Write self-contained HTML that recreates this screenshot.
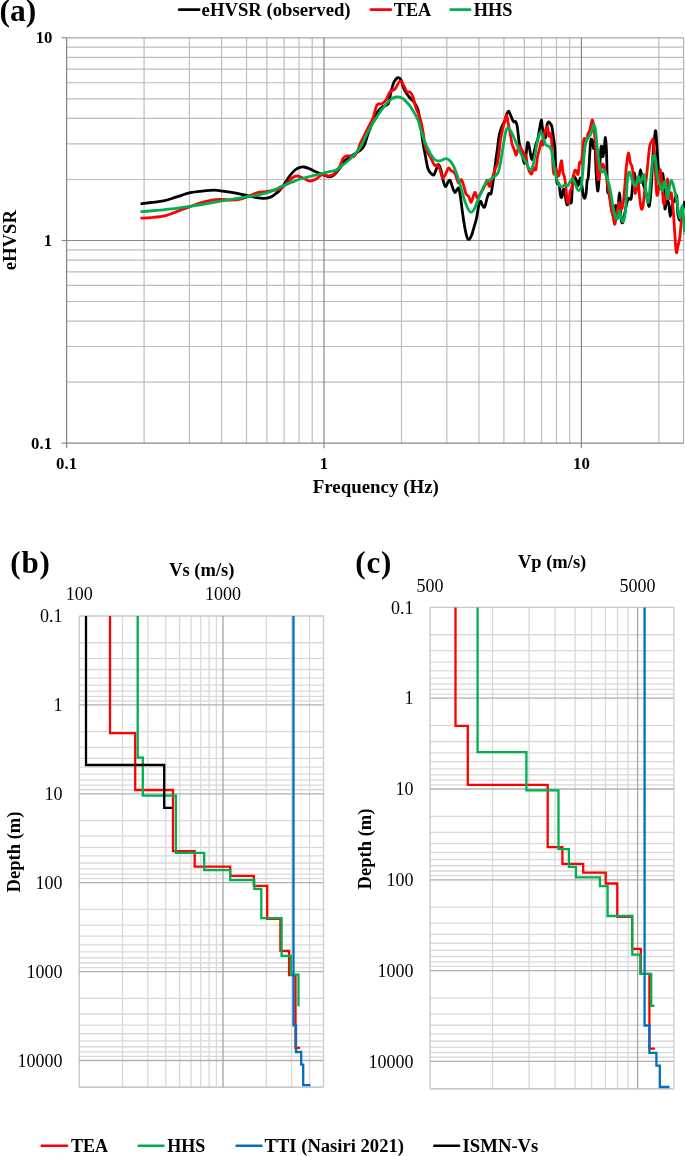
<!DOCTYPE html>
<html><head><meta charset="utf-8"><title>Figure</title>
<style>
html,body{margin:0;padding:0;background:#fff;}
body{width:685px;height:1156px;overflow:hidden;}
svg{display:block;}
text{font-family:"Liberation Serif",serif;fill:#000;}
.t{opacity:0.999;}
</style></head>
<body>
<svg width="685" height="1156" viewBox="0 0 685 1156">
<defs><clipPath id="clipA"><rect x="66.6" y="32.8" width="618.4" height="410.4"/></clipPath></defs>
<rect x="0" y="0" width="685" height="1156" fill="#fff"/>
<line x1="66.6" y1="382.18" x2="683.6" y2="382.18" stroke="#bdbdbd" stroke-width="1.2"/>
<line x1="66.6" y1="346.49" x2="683.6" y2="346.49" stroke="#bdbdbd" stroke-width="1.2"/>
<line x1="66.6" y1="321.16" x2="683.6" y2="321.16" stroke="#bdbdbd" stroke-width="1.2"/>
<line x1="66.6" y1="301.52" x2="683.6" y2="301.52" stroke="#bdbdbd" stroke-width="1.2"/>
<line x1="66.6" y1="285.47" x2="683.6" y2="285.47" stroke="#bdbdbd" stroke-width="1.2"/>
<line x1="66.6" y1="271.9" x2="683.6" y2="271.9" stroke="#bdbdbd" stroke-width="1.2"/>
<line x1="66.6" y1="260.14" x2="683.6" y2="260.14" stroke="#bdbdbd" stroke-width="1.2"/>
<line x1="66.6" y1="249.78" x2="683.6" y2="249.78" stroke="#bdbdbd" stroke-width="1.2"/>
<line x1="66.6" y1="179.48" x2="683.6" y2="179.48" stroke="#bdbdbd" stroke-width="1.2"/>
<line x1="66.6" y1="143.79" x2="683.6" y2="143.79" stroke="#bdbdbd" stroke-width="1.2"/>
<line x1="66.6" y1="118.46" x2="683.6" y2="118.46" stroke="#bdbdbd" stroke-width="1.2"/>
<line x1="66.6" y1="98.82" x2="683.6" y2="98.82" stroke="#bdbdbd" stroke-width="1.2"/>
<line x1="66.6" y1="82.77" x2="683.6" y2="82.77" stroke="#bdbdbd" stroke-width="1.2"/>
<line x1="66.6" y1="69.2" x2="683.6" y2="69.2" stroke="#bdbdbd" stroke-width="1.2"/>
<line x1="66.6" y1="57.44" x2="683.6" y2="57.44" stroke="#bdbdbd" stroke-width="1.2"/>
<line x1="66.6" y1="47.08" x2="683.6" y2="47.08" stroke="#bdbdbd" stroke-width="1.2"/>
<line x1="144.09" y1="37.8" x2="144.09" y2="443.2" stroke="#bdbdbd" stroke-width="1.2"/>
<line x1="189.41" y1="37.8" x2="189.41" y2="443.2" stroke="#bdbdbd" stroke-width="1.2"/>
<line x1="221.57" y1="37.8" x2="221.57" y2="443.2" stroke="#bdbdbd" stroke-width="1.2"/>
<line x1="246.51" y1="37.8" x2="246.51" y2="443.2" stroke="#bdbdbd" stroke-width="1.2"/>
<line x1="266.9" y1="37.8" x2="266.9" y2="443.2" stroke="#bdbdbd" stroke-width="1.2"/>
<line x1="284.13" y1="37.8" x2="284.13" y2="443.2" stroke="#bdbdbd" stroke-width="1.2"/>
<line x1="299.06" y1="37.8" x2="299.06" y2="443.2" stroke="#bdbdbd" stroke-width="1.2"/>
<line x1="312.22" y1="37.8" x2="312.22" y2="443.2" stroke="#bdbdbd" stroke-width="1.2"/>
<line x1="401.49" y1="37.8" x2="401.49" y2="443.2" stroke="#bdbdbd" stroke-width="1.2"/>
<line x1="446.81" y1="37.8" x2="446.81" y2="443.2" stroke="#bdbdbd" stroke-width="1.2"/>
<line x1="478.97" y1="37.8" x2="478.97" y2="443.2" stroke="#bdbdbd" stroke-width="1.2"/>
<line x1="503.91" y1="37.8" x2="503.91" y2="443.2" stroke="#bdbdbd" stroke-width="1.2"/>
<line x1="524.3" y1="37.8" x2="524.3" y2="443.2" stroke="#bdbdbd" stroke-width="1.2"/>
<line x1="541.53" y1="37.8" x2="541.53" y2="443.2" stroke="#bdbdbd" stroke-width="1.2"/>
<line x1="556.46" y1="37.8" x2="556.46" y2="443.2" stroke="#bdbdbd" stroke-width="1.2"/>
<line x1="569.62" y1="37.8" x2="569.62" y2="443.2" stroke="#bdbdbd" stroke-width="1.2"/>
<line x1="658.89" y1="37.8" x2="658.89" y2="443.2" stroke="#bdbdbd" stroke-width="1.2"/>
<line x1="683.6" y1="37.8" x2="683.6" y2="443.2" stroke="#b4b4b4" stroke-width="1.2"/>
<line x1="66.6" y1="37.8" x2="683.6" y2="37.8" stroke="#a8a8a8" stroke-width="1.3"/>
<line x1="66.6" y1="240.5" x2="683.6" y2="240.5" stroke="#898989" stroke-width="1.2"/>
<line x1="324" y1="37.8" x2="324" y2="448.2" stroke="#898989" stroke-width="1.2"/>
<line x1="581.4" y1="37.8" x2="581.4" y2="448.2" stroke="#898989" stroke-width="1.2"/>
<line x1="66.6" y1="37.8" x2="66.6" y2="448.2" stroke="#898989" stroke-width="1.3"/>
<line x1="61.6" y1="443.2" x2="683.6" y2="443.2" stroke="#898989" stroke-width="1.3"/>
<line x1="61.6" y1="37.8" x2="66.6" y2="37.8" stroke="#898989" stroke-width="1.2"/>
<line x1="61.6" y1="240.5" x2="66.6" y2="240.5" stroke="#898989" stroke-width="1.2"/>
<line x1="179.2" y1="9.7" x2="199.1" y2="9.7" stroke="#000" stroke-width="2.7" stroke-linecap="round"/>
<line x1="370.9" y1="9.7" x2="390.8" y2="9.7" stroke="#ff0000" stroke-width="2.7" stroke-linecap="round"/>
<line x1="450.7" y1="9.7" x2="470.1" y2="9.7" stroke="#00b050" stroke-width="2.7" stroke-linecap="round"/>
<g clip-path="url(#clipA)">
<path d="M140.5,203.9 C142.3,203.67 147.45,203 151.3,202.5 C155.15,202 159.5,201.78 163.6,200.9 C167.7,200.02 171.47,198.57 175.9,197.2 C180.33,195.83 185.78,193.72 190.2,192.7 C194.62,191.68 198.32,191.52 202.4,191.1 C206.48,190.68 211.28,190.2 214.7,190.2 C218.12,190.2 219.83,190.68 222.9,191.1 C225.97,191.52 229.35,192.02 233.1,192.7 C236.85,193.38 241.65,194.42 245.4,195.2 C249.15,195.98 252.53,196.87 255.6,197.4 C258.67,197.93 261.42,198.4 263.8,198.4 C266.18,198.4 268.03,198.08 269.9,197.4 C271.77,196.72 273.32,195.53 275,194.3 C276.68,193.07 278.33,191.88 280,190 C281.67,188.12 283.33,185.42 285,183 C286.67,180.58 288.33,177.67 290,175.5 C291.67,173.33 293.33,171.37 295,170 C296.67,168.63 298.5,167.8 300,167.3 C301.5,166.8 302.5,166.8 304,167 C305.5,167.2 307.33,167.83 309,168.5 C310.67,169.17 312.17,170.17 314,171 C315.83,171.83 318.17,172.75 320,173.5 C321.83,174.25 323.33,174.95 325,175.5 C326.67,176.05 328.5,176.88 330,176.8 C331.5,176.72 332.33,176.47 334,175 C335.67,173.53 338.33,170.25 340,168 C341.67,165.75 342.33,163.33 344,161.5 C345.67,159.67 348.33,158.17 350,157 C351.67,155.83 352.33,155.58 354,154.5 C355.67,153.42 358.33,151.92 360,150.5 C361.67,149.08 362.67,148.75 364,146 C365.33,143.25 366.67,137.67 368,134 C369.33,130.33 370.67,127.33 372,124 C373.33,120.67 374.33,116.83 376,114 C377.67,111.17 380,108.67 382,107 C384,105.33 386.5,106.5 388,104 C389.5,101.5 390,95.67 391,92 C392,88.33 392.83,84.4 394,82 C395.17,79.6 396.83,77.93 398,77.6 C399.17,77.27 400,78.1 401,80 C402,81.9 403,86.67 404,89 C405,91.33 406,92.5 407,94 C408,95.5 408.83,96.67 410,98 C411.17,99.33 412.67,100 414,102 C415.33,104 416.92,106.17 418,110 C419.08,113.83 419.67,119.5 420.5,125 C421.33,130.5 422.15,137.67 423,143 C423.85,148.33 424.78,152.75 425.6,157 C426.42,161.25 427.03,165.8 427.9,168.5 C428.77,171.2 429.82,172.12 430.8,173.2 C431.78,174.28 432.92,175.58 433.8,175 C434.68,174.42 435.33,171.45 436.1,169.7 C436.87,167.95 437.62,164.5 438.4,164.5 C439.18,164.5 440.02,167.08 440.8,169.7 C441.58,172.32 442.33,177.38 443.1,180.2 C443.87,183.02 444.62,186.2 445.4,186.6 C446.18,187 447.02,183.67 447.8,182.6 C448.58,181.53 449.32,179.43 450.1,180.2 C450.88,180.97 451.72,185.15 452.5,187.2 C453.28,189.25 454.03,192.1 454.8,192.5 C455.57,192.9 456.42,190.28 457.1,189.6 C457.78,188.92 458.32,187.05 458.9,188.4 C459.48,189.75 460.02,193.8 460.6,197.7 C461.18,201.6 461.72,206.93 462.4,211.8 C463.08,216.67 463.92,222.63 464.7,226.9 C465.48,231.17 466.32,235.35 467.1,237.4 C467.88,239.45 468.63,239.58 469.4,239.2 C470.17,238.82 470.92,237.15 471.7,235.1 C472.48,233.05 473.32,229.62 474.1,226.9 C474.88,224.18 475.63,222.3 476.4,218.8 C477.17,215.3 478.02,208.83 478.7,205.9 C479.38,202.97 479.92,201.4 480.5,201.2 C481.08,201 481.52,203.72 482.2,204.7 C482.88,205.68 483.82,208.07 484.6,207.1 C485.38,206.13 486.22,201.15 486.9,198.9 C487.58,196.65 488.02,194.48 488.7,193.6 C489.38,192.72 490.33,195.25 491,193.6 C491.67,191.95 492.12,187.48 492.7,183.7 C493.28,179.92 493.92,175.37 494.5,170.9 C495.08,166.43 495.72,160.55 496.2,156.9 C496.68,153.25 496.93,152.4 497.4,149 C497.87,145.6 498.48,139.62 499,136.5 C499.52,133.38 499.9,132.2 500.5,130.3 C501.1,128.4 501.82,126.83 502.6,125.1 C503.38,123.37 504.5,121.8 505.2,119.9 C505.9,118 506.23,115.17 506.8,113.7 C507.37,112.23 508,110.93 508.6,111.1 C509.2,111.27 509.75,113.23 510.4,114.7 C511.05,116.17 511.9,118.68 512.5,119.9 C513.1,121.12 513.48,121.73 514,122 C514.52,122.27 515.07,120.8 515.6,121.5 C516.13,122.2 516.77,124.03 517.2,126.2 C517.63,128.37 517.87,131.73 518.2,134.5 C518.53,137.27 518.77,140.38 519.2,142.8 C519.63,145.22 520.28,146.93 520.8,149 C521.32,151.07 521.7,152.78 522.3,155.2 C522.9,157.62 523.78,163.5 524.4,163.5 C525.02,163.5 525.48,158.65 526,155.2 C526.52,151.75 526.98,144.35 527.5,142.8 C528.02,141.25 528.57,143.83 529.1,145.9 C529.63,147.97 530.18,152.95 530.7,155.2 C531.22,157.45 531.68,159.73 532.2,159.4 C532.72,159.07 533.2,155.63 533.8,153.2 C534.4,150.77 535.12,147.23 535.8,144.8 C536.48,142.37 537.28,141.18 537.9,138.6 C538.52,136.02 538.93,132.4 539.5,129.3 C540.07,126.2 540.82,120.28 541.3,120 C541.78,119.72 541.9,124.9 542.4,127.6 C542.9,130.3 543.75,134.62 544.3,136.2 C544.85,137.78 545.23,139 545.7,137.1 C546.17,135.2 546.62,127.33 547.1,124.8 C547.58,122.27 548.03,122.07 548.6,121.9 C549.17,121.73 549.95,123 550.5,123.8 C551.05,124.6 551.43,124.63 551.9,126.7 C552.37,128.77 552.82,132.72 553.3,136.2 C553.78,139.68 554.4,142.52 554.8,147.6 C555.2,152.68 555.33,160.82 555.7,166.7 C556.07,172.58 556.45,180.05 557,182.9 C557.55,185.75 558.42,181.75 559,183.8 C559.58,185.85 560.02,192.98 560.5,195.2 C560.98,197.42 561.43,198.05 561.9,197.1 C562.37,196.15 562.82,190.45 563.3,189.5 C563.78,188.55 564.32,189.33 564.8,191.4 C565.28,193.47 565.73,199.67 566.2,201.9 C566.67,204.13 567.05,205.12 567.6,204.8 C568.15,204.48 568.87,200.48 569.5,200 C570.13,199.52 570.83,205.55 571.4,201.9 C571.97,198.25 572.33,182.23 572.9,178.1 C573.47,173.97 574.17,176.62 574.8,177.1 C575.43,177.58 576.15,179.57 576.7,181 C577.25,182.43 577.63,185.7 578.1,185.7 C578.57,185.7 579.1,182.27 579.5,181 C579.9,179.73 580.1,177.32 580.5,178.1 C580.9,178.88 581.43,182.85 581.9,185.7 C582.37,188.55 582.82,193.13 583.3,195.2 C583.78,197.27 584.32,198.57 584.8,198.1 C585.28,197.63 585.82,195.25 586.2,192.4 C586.58,189.55 586.78,183.38 587.1,181 C587.42,178.62 587.78,180.48 588.1,178.1 C588.42,175.72 588.7,171.13 589,166.7 C589.3,162.27 589.58,155.95 589.9,151.5 C590.22,147.05 590.47,141.75 590.9,140 C591.33,138.25 592.07,139.6 592.5,141 C592.93,142.4 593.08,147.85 593.5,148.4 C593.92,148.95 594.57,140.32 595,144.3 C595.43,148.28 595.65,164.52 596.1,172.3 C596.55,180.08 597.18,190.13 597.7,191 C598.22,191.87 598.68,184.42 599.2,177.5 C599.72,170.58 600.37,154.52 600.8,149.5 C601.23,144.48 601.47,146.2 601.8,147.4 C602.13,148.6 602.42,156.35 602.8,156.7 C603.18,157.05 603.67,152.7 604.1,149.5 C604.53,146.3 605,137.17 605.4,137.5 C605.8,137.83 606.15,142.93 606.5,151.5 C606.85,160.07 607.15,181.98 607.5,188.9 C607.85,195.82 608.17,191.43 608.6,193 C609.03,194.57 609.5,195.17 610.1,198.3 C610.7,201.43 611.5,209.22 612.2,211.8 C612.9,214.38 613.7,214.85 614.3,213.8 C614.9,212.75 615.28,204.8 615.8,205.5 C616.32,206.2 616.78,220.08 617.4,218 C618.02,215.92 618.9,193 619.5,193 C620.1,193 620.48,213.05 621,218 C621.52,222.95 621.98,223.4 622.6,222.7 C623.22,222 624.02,217 624.7,213.8 C625.38,210.6 626.02,206.08 626.7,203.5 C627.38,200.92 628.1,199 628.8,198.3 C629.5,197.6 630.38,200.18 630.9,199.3 C631.42,198.42 631.38,197.33 631.9,193 C632.42,188.67 633.38,175.37 634,173.3 C634.62,171.23 635.08,178.17 635.6,180.6 C636.12,183.03 636.58,187.55 637.1,187.9 C637.62,188.25 638.13,185.73 638.7,182.7 C639.27,179.67 639.82,169.7 640.5,169.7 C641.18,169.7 641.98,179.23 642.8,182.7 C643.62,186.17 644.65,187.9 645.4,190.5 C646.15,193.1 646.65,195.7 647.3,198.3 C647.95,200.9 648.65,207.83 649.3,206.1 C649.95,204.37 650.55,196.98 651.2,187.9 C651.85,178.82 652.62,160.25 653.2,151.6 C653.78,142.95 654.27,139.37 654.7,136 C655.13,132.63 655.4,129.23 655.8,131.4 C656.2,133.57 656.67,142.83 657.1,149 C657.53,155.17 657.87,163.22 658.4,168.4 C658.93,173.58 659.58,179.23 660.3,180.1 C661.02,180.97 662.05,172.3 662.7,173.6 C663.35,174.9 663.83,182.05 664.2,187.9 C664.57,193.75 664.47,206.53 664.9,208.7 C665.33,210.87 666.15,201.77 666.8,200.9 C667.45,200.03 668.22,200.9 668.8,203.5 C669.38,206.1 669.65,216.5 670.3,216.5 C670.95,216.5 671.98,206.1 672.7,203.5 C673.42,200.9 673.95,202.2 674.6,200.9 C675.25,199.6 676.05,193.53 676.6,195.7 C677.15,197.87 677.37,209.78 677.9,213.9 C678.43,218.02 679.15,220.4 679.8,220.4 C680.45,220.4 681.15,216.28 681.8,213.9 C682.45,211.52 683.17,208.27 683.7,206.1 C684.23,203.93 684.78,201.77 685,200.9" fill="none" stroke="#000" stroke-width="2.8" stroke-linejoin="round"/>
<path d="M140.5,218.2 C142.3,218.1 147.1,218.03 151.3,217.6 C155.5,217.17 161.27,216.68 165.7,215.6 C170.13,214.52 173.82,212.6 177.9,211.1 C181.98,209.6 186.45,207.97 190.2,206.6 C193.95,205.23 197,203.95 200.4,202.9 C203.8,201.85 207.2,200.88 210.6,200.3 C214,199.72 217.38,199.43 220.8,199.4 C224.22,199.37 228.03,200.1 231.1,200.1 C234.17,200.1 236.48,199.95 239.2,199.4 C241.92,198.85 244.33,197.92 247.4,196.8 C250.47,195.68 254.53,193.55 257.6,192.7 C260.67,191.85 262.9,192.12 265.8,191.7 C268.7,191.28 272.63,190.65 275,190.2 C277.37,189.75 278.17,190.03 280,189 C281.83,187.97 284,185.83 286,184 C288,182.17 290.17,179.33 292,178 C293.83,176.67 295.17,176 297,176 C298.83,176 300.83,177.17 303,178 C305.17,178.83 307.83,180.83 310,181 C312.17,181.17 314,180 316,179 C318,178 319.83,175.5 322,175 C324.17,174.5 327,176.17 329,176 C331,175.83 332.17,175.67 334,174 C335.83,172.33 338.5,168.58 340,166 C341.5,163.42 342,160.17 343,158.5 C344,156.83 344.83,156.42 346,156 C347.17,155.58 348.67,155.92 350,156 C351.33,156.08 352.67,157.5 354,156.5 C355.33,155.5 357,152.08 358,150 C359,147.92 359,146.33 360,144 C361,141.67 362.67,138.67 364,136 C365.33,133.33 366.5,131 368,128 C369.5,125 371.5,121.83 373,118 C374.5,114.17 375.5,107.4 377,105 C378.5,102.6 380.5,104.43 382,103.6 C383.5,102.77 384.67,101.93 386,100 C387.33,98.07 388.5,93.83 390,92 C391.5,90.17 393.33,90.83 395,89 C396.67,87.17 398.5,81.5 400,81 C401.5,80.5 402.83,84.17 404,86 C405.17,87.83 406,91 407,92 C408,93 409,91.17 410,92 C411,92.83 412,94.33 413,97 C414,99.67 414.83,104.5 416,108 C417.17,111.5 418.88,114.33 420,118 C421.12,121.67 421.87,125.47 422.7,130 C423.53,134.53 424.23,141.5 425,145.2 C425.77,148.9 426.33,150.07 427.3,152.2 C428.27,154.33 429.62,155.87 430.8,158 C431.98,160.13 433.32,163.83 434.4,165 C435.48,166.17 436.43,164.42 437.3,165 C438.17,165.58 438.73,166.35 439.6,168.5 C440.47,170.65 441.53,176.92 442.5,177.9 C443.47,178.88 444.42,176.05 445.4,174.4 C446.38,172.75 447.52,168.68 448.4,168 C449.28,167.32 449.93,169.72 450.7,170.3 C451.47,170.88 452.22,170.82 453,171.5 C453.78,172.18 454.52,172.55 455.4,174.4 C456.28,176.25 457.33,181.73 458.3,182.6 C459.27,183.47 460.33,179.22 461.2,179.6 C462.07,179.98 462.72,182.57 463.5,184.9 C464.28,187.23 465.02,191.65 465.9,193.6 C466.78,195.55 467.93,195.13 468.8,196.6 C469.67,198.07 470.32,202.6 471.1,202.4 C471.88,202.2 472.82,197.05 473.5,195.4 C474.18,193.75 474.62,192.12 475.2,192.5 C475.78,192.88 476.32,197.22 477,197.7 C477.68,198.18 478.43,196.57 479.3,195.4 C480.17,194.23 481.22,192.45 482.2,190.7 C483.18,188.95 484.42,186.65 485.2,184.9 C485.98,183.15 486.42,180.47 486.9,180.2 C487.38,179.93 487.65,182.27 488.1,183.3 C488.55,184.33 489.08,186.75 489.6,186.4 C490.12,186.05 490.58,183.1 491.2,181.2 C491.82,179.3 492.62,177.08 493.3,175 C493.98,172.92 494.62,170.62 495.3,168.7 C495.98,166.78 496.78,166.08 497.4,163.5 C498.02,160.92 498.48,157.17 499,153.2 C499.52,149.23 499.9,143.68 500.5,139.7 C501.1,135.72 501.9,132.42 502.6,129.3 C503.3,126.18 504.03,123.35 504.7,121 C505.37,118.65 506,114.68 506.6,115.2 C507.2,115.72 507.67,120.88 508.3,124.1 C508.93,127.32 509.78,131.22 510.4,134.5 C511.02,137.78 511.4,141.38 512,143.8 C512.6,146.22 513.32,147.1 514,149 C514.68,150.9 515.48,155.03 516.1,155.2 C516.72,155.37 517.1,151.55 517.7,150 C518.3,148.45 519.02,145.9 519.7,145.9 C520.38,145.9 521.1,148.78 521.8,150 C522.5,151.22 523.2,152.15 523.9,153.2 C524.6,154.25 525.4,154.23 526,156.3 C526.6,158.37 526.9,163.02 527.5,165.6 C528.1,168.18 528.9,170.42 529.6,171.8 C530.3,173.18 531,174.58 531.7,173.9 C532.4,173.22 533.12,168.38 533.8,167.7 C534.48,167.02 535.2,171.53 535.8,169.8 C536.4,168.07 536.78,160.77 537.4,157.3 C538.02,153.83 538.83,151.72 539.5,149 C540.17,146.28 540.83,141.7 541.4,141 C541.97,140.3 542.42,146.08 542.9,144.8 C543.38,143.52 543.75,136 544.3,133.3 C544.85,130.6 545.65,129.55 546.2,128.6 C546.75,127.65 547.13,126.33 547.6,127.6 C548.07,128.87 548.52,135.25 549,136.2 C549.48,137.15 550.02,132.03 550.5,133.3 C550.98,134.57 551.43,137.45 551.9,143.8 C552.37,150.15 552.82,166.63 553.3,171.4 C553.78,176.17 554.32,172.87 554.8,172.4 C555.28,171.93 555.73,168.28 556.2,168.6 C556.67,168.92 557.13,173.2 557.6,174.3 C558.07,175.4 558.52,176.78 559,175.2 C559.48,173.62 560.05,167.17 560.5,164.8 C560.95,162.43 561.3,159.73 561.7,161 C562.1,162.27 562.47,169.87 562.9,172.4 C563.33,174.93 563.83,173.98 564.3,176.2 C564.77,178.42 565.23,181.73 565.7,185.7 C566.17,189.67 566.62,197.13 567.1,200 C567.58,202.87 568.12,204.17 568.6,202.9 C569.08,201.63 569.45,194.95 570,192.4 C570.55,189.85 571.35,189.98 571.9,187.6 C572.45,185.22 572.82,180.95 573.3,178.1 C573.78,175.25 574.23,171.62 574.8,170.5 C575.37,169.38 576.15,170.77 576.7,171.4 C577.25,172.03 577.63,175.72 578.1,174.3 C578.57,172.88 579.02,164.8 579.5,162.9 C579.98,161 580.52,164.18 581,162.9 C581.48,161.62 581.93,159.02 582.4,155.2 C582.87,151.38 583.33,142.7 583.8,140 C584.27,137.3 584.72,139 585.2,139 C585.68,139 586.22,140.95 586.7,140 C587.18,139.05 587.67,134.67 588.1,133.3 C588.53,131.93 588.83,133.08 589.3,131.8 C589.77,130.52 590.37,127.58 590.9,125.6 C591.43,123.62 591.98,119.38 592.5,119.9 C593.02,120.42 593.48,124.3 594,128.7 C594.52,133.1 595.08,139.9 595.6,146.3 C596.12,152.7 596.67,161.55 597.1,167.1 C597.53,172.65 597.77,178.73 598.2,179.6 C598.63,180.47 599.18,174.2 599.7,172.3 C600.22,170.4 600.78,169.58 601.3,168.2 C601.82,166.82 602.28,164 602.8,164 C603.32,164 603.87,166.47 604.4,168.2 C604.93,169.93 605.48,171.63 606,174.4 C606.52,177.17 606.98,181.7 607.5,184.8 C608.02,187.9 608.48,189.02 609.1,193 C609.72,196.98 610.52,204.7 611.2,208.7 C611.88,212.7 612.6,214.42 613.2,217 C613.8,219.58 614.18,224.73 614.8,224.2 C615.42,223.67 616.22,217.43 616.9,213.8 C617.58,210.17 618.22,203.08 618.9,202.4 C619.58,201.72 620.3,209.52 621,209.7 C621.7,209.88 622.48,207.13 623.1,203.5 C623.72,199.87 624.18,193.78 624.7,187.9 C625.22,182.02 625.68,173.57 626.2,168.2 C626.72,162.83 627.37,158.13 627.8,155.7 C628.23,153.27 628.37,152.38 628.8,153.6 C629.23,154.82 629.88,160.93 630.4,163 C630.92,165.07 631.38,163.58 631.9,166 C632.42,168.42 632.98,173 633.5,177.5 C634.02,182 634.45,191.25 635,193 C635.55,194.75 636.27,189.83 636.8,188 C637.33,186.17 637.72,180.33 638.2,182 C638.68,183.67 639.18,193.55 639.7,198 C640.22,202.45 640.75,207.37 641.3,208.7 C641.85,210.03 642.43,209.03 643,206 C643.57,202.97 644.08,195.67 644.7,190.5 C645.32,185.33 646.15,179.77 646.7,175 C647.25,170.23 647.47,166.88 648,161.9 C648.53,156.92 649.25,148.55 649.9,145.1 C650.55,141.65 651.35,142.07 651.9,141.2 C652.45,140.33 652.77,137.95 653.2,139.9 C653.63,141.85 653.97,144.47 654.5,152.9 C655.03,161.33 655.87,183.58 656.4,190.5 C656.93,197.42 657.27,195.27 657.7,194.4 C658.13,193.53 658.57,189.42 659,185.3 C659.43,181.18 659.75,169.27 660.3,169.7 C660.85,170.13 661.75,182.27 662.3,187.9 C662.85,193.53 663.07,201.77 663.6,203.5 C664.13,205.23 664.85,202.42 665.5,198.3 C666.15,194.18 666.85,178.8 667.5,178.8 C668.15,178.8 668.75,195.92 669.4,198.3 C670.05,200.68 670.75,190.93 671.4,193.1 C672.05,195.27 672.77,205.02 673.3,211.3 C673.83,217.58 674.1,223.98 674.6,230.8 C675.1,237.62 675.75,249.6 676.3,252.2 C676.85,254.8 677.32,248.88 677.9,246.4 C678.48,243.92 679.15,242.07 679.8,237.3 C680.45,232.53 681.15,220.83 681.8,217.8 C682.45,214.77 683.17,219.32 683.7,219.1 C684.23,218.88 684.78,216.93 685,216.5" fill="none" stroke="#ff0000" stroke-width="2.8" stroke-linejoin="round"/>
<path d="M140.5,211.7 C142.98,211.5 149.5,211.05 155.4,210.5 C161.3,209.95 169.08,209.25 175.9,208.4 C182.72,207.55 189.5,206.48 196.3,205.4 C203.1,204.32 209.88,203.07 216.7,201.9 C223.52,200.73 231.07,199.42 237.2,198.4 C243.33,197.38 248.73,196.68 253.5,195.8 C258.27,194.92 262.22,194.13 265.8,193.1 C269.38,192.07 272.63,190.62 275,189.6 C277.37,188.58 277.5,188.1 280,187 C282.5,185.9 286.67,184.33 290,183 C293.33,181.67 296.67,180.08 300,179 C303.33,177.92 306.67,177.33 310,176.5 C313.33,175.67 317,174.75 320,174 C323,173.25 325.33,172.67 328,172 C330.67,171.33 333.33,171.33 336,170 C338.67,168.67 341.67,165.83 344,164 C346.33,162.17 348.17,160.67 350,159 C351.83,157.33 353.33,155.83 355,154 C356.67,152.17 358.33,150.67 360,148 C361.67,145.33 363.33,141.33 365,138 C366.67,134.67 368.33,131 370,128 C371.67,125 373.33,122.67 375,120 C376.67,117.33 378.33,114.42 380,112 C381.67,109.58 383.33,107.5 385,105.5 C386.67,103.5 388.17,101.42 390,100 C391.83,98.58 394,97.33 396,97 C398,96.67 400.33,97.25 402,98 C403.67,98.75 404.67,100.17 406,101.5 C407.33,102.83 408.67,104.17 410,106 C411.33,107.83 412.67,110.17 414,112.5 C415.33,114.83 416.95,117.42 418,120 C419.05,122.58 419.33,124.78 420.3,128 C421.27,131.22 422.63,136.05 423.8,139.3 C424.97,142.55 426.13,144.97 427.3,147.5 C428.47,150.03 429.62,152.55 430.8,154.5 C431.98,156.45 433.22,158.13 434.4,159.2 C435.58,160.27 436.73,160.7 437.9,160.9 C439.07,161.1 440.05,160.78 441.4,160.4 C442.75,160.02 444.65,158.6 446,158.6 C447.35,158.6 448.33,159.33 449.5,160.4 C450.67,161.47 451.83,162.87 453,165 C454.17,167.13 455.42,170.27 456.5,173.2 C457.58,176.13 458.52,179.28 459.5,182.6 C460.48,185.92 461.43,189.8 462.4,193.1 C463.37,196.4 464.33,199.68 465.3,202.4 C466.27,205.12 467.23,207.75 468.2,209.4 C469.17,211.05 470.12,212.3 471.1,212.3 C472.08,212.3 473.12,211.05 474.1,209.4 C475.08,207.75 476.03,204.73 477,202.4 C477.97,200.07 478.83,197.93 479.9,195.4 C480.97,192.87 482.23,189.53 483.4,187.2 C484.57,184.87 485.95,182.57 486.9,181.4 C487.85,180.23 488.22,180.75 489.1,180.2 C489.98,179.65 491.17,178.8 492.2,178.1 C493.23,177.4 494.35,176.87 495.3,176 C496.25,175.13 497.12,174.63 497.9,172.9 C498.68,171.17 499.3,168.88 500,165.6 C500.7,162.32 501.4,157.52 502.1,153.2 C502.8,148.88 503.52,143.52 504.2,139.7 C504.88,135.88 505.52,132.3 506.2,130.3 C506.88,128.3 507.52,127.53 508.3,127.7 C509.08,127.87 510.03,129.83 510.9,131.3 C511.77,132.77 512.63,134.58 513.5,136.5 C514.37,138.42 515.15,140.55 516.1,142.8 C517.05,145.05 518.17,147.75 519.2,150 C520.23,152.25 521.25,154.38 522.3,156.3 C523.35,158.22 524.45,159.6 525.5,161.5 C526.55,163.4 527.73,166.32 528.6,167.7 C529.47,169.08 530.02,169.97 530.7,169.8 C531.38,169.63 532.02,168.95 532.7,166.7 C533.38,164.45 534.1,160.12 534.8,156.3 C535.5,152.48 536.2,147.27 536.9,143.8 C537.6,140.33 538.32,137.4 539,135.5 C539.68,133.6 540.28,131.97 541,132.4 C541.72,132.83 542.6,136.2 543.3,138.1 C544,140 544.57,142.53 545.2,143.8 C545.83,145.07 546.38,145.22 547.1,145.7 C547.82,146.18 548.78,145.9 549.5,146.7 C550.22,147.5 550.77,148.12 551.4,150.5 C552.03,152.88 552.67,157.35 553.3,161 C553.93,164.65 554.57,169.23 555.2,172.4 C555.83,175.57 556.38,177.78 557.1,180 C557.82,182.22 558.7,184.58 559.5,185.7 C560.3,186.82 561.02,186.85 561.9,186.7 C562.78,186.55 563.85,184.97 564.8,184.8 C565.75,184.63 566.73,186.18 567.6,185.7 C568.47,185.22 569.2,183.02 570,181.9 C570.8,180.78 571.6,178.83 572.4,179 C573.2,179.17 574.02,181.3 574.8,182.9 C575.58,184.5 576.4,187.33 577.1,188.6 C577.8,189.87 578.35,190.67 579,190.5 C579.65,190.33 580.43,189.98 581,187.6 C581.57,185.22 581.93,180.97 582.4,176.2 C582.87,171.43 583.33,164.08 583.8,159 C584.27,153.92 584.72,148.87 585.2,145.7 C585.68,142.53 586.13,141.43 586.7,140 C587.27,138.57 587.98,137.95 588.6,137.1 C589.22,136.25 589.85,135.95 590.4,134.9 C590.95,133.85 591.3,132.53 591.9,130.8 C592.5,129.07 593.38,124.5 594,124.5 C594.62,124.5 595.08,127.17 595.6,130.8 C596.12,134.43 596.58,141.47 597.1,146.3 C597.62,151.13 598.18,155.98 598.7,159.8 C599.22,163.62 599.6,167.12 600.2,169.2 C600.8,171.28 601.6,172.13 602.3,172.3 C603,172.47 603.7,169.5 604.4,170.2 C605.1,170.9 605.72,174.07 606.5,176.5 C607.28,178.93 608.32,181.68 609.1,184.8 C609.88,187.92 610.52,191.4 611.2,195.2 C611.88,199 612.43,203.8 613.2,207.6 C613.97,211.4 615.02,216.27 615.8,218 C616.58,219.73 617.28,219.22 617.9,218 C618.52,216.78 618.9,210.53 619.5,210.7 C620.1,210.87 620.82,217.27 621.5,219 C622.18,220.73 622.9,222.82 623.6,221.1 C624.3,219.38 625.1,215.1 625.7,208.7 C626.3,202.3 626.68,188.77 627.2,182.7 C627.72,176.63 628.18,173.52 628.8,172.3 C629.42,171.08 630.2,173.67 630.9,175.4 C631.6,177.13 632.22,180.97 633,182.7 C633.78,184.43 634.73,186.83 635.6,185.8 C636.47,184.77 637.38,177.02 638.2,176.5 C639.02,175.98 639.52,182.97 640.5,182.7 C641.48,182.43 643.07,172.3 644.1,174.9 C645.13,177.5 645.95,193.97 646.7,198.3 C647.45,202.63 647.95,203.93 648.6,200.9 C649.25,197.87 649.95,187.02 650.6,180.1 C651.25,173.18 651.9,163.5 652.5,159.4 C653.1,155.3 653.65,155.08 654.2,155.5 C654.75,155.92 655.22,158.02 655.8,161.9 C656.38,165.78 656.95,174.9 657.7,178.8 C658.45,182.7 659.53,183.35 660.3,185.3 C661.07,187.25 661.53,191.15 662.3,190.5 C663.07,189.85 664.03,180.1 664.9,181.4 C665.77,182.7 666.75,197.22 667.5,198.3 C668.25,199.38 668.75,190.93 669.4,187.9 C670.05,184.87 670.63,180.1 671.4,180.1 C672.17,180.1 673.13,184.65 674,187.9 C674.87,191.15 675.63,194.62 676.6,199.6 C677.57,204.58 678.83,216.72 679.8,217.8 C680.77,218.88 681.63,203.93 682.4,206.1 C683.17,208.27 683.97,226.48 684.4,230.8 C684.83,235.12 684.9,231.8 685,232" fill="none" stroke="#00b050" stroke-width="2.8" stroke-linejoin="round"/>
</g>
<line x1="79.2" y1="642.76" x2="323.51" y2="642.76" stroke="#d9d9d9" stroke-width="1.3"/>
<line x1="79.2" y1="658.42" x2="323.51" y2="658.42" stroke="#d9d9d9" stroke-width="1.3"/>
<line x1="79.2" y1="669.52" x2="323.51" y2="669.52" stroke="#d9d9d9" stroke-width="1.3"/>
<line x1="79.2" y1="678.14" x2="323.51" y2="678.14" stroke="#d9d9d9" stroke-width="1.3"/>
<line x1="79.2" y1="685.18" x2="323.51" y2="685.18" stroke="#d9d9d9" stroke-width="1.3"/>
<line x1="79.2" y1="691.13" x2="323.51" y2="691.13" stroke="#d9d9d9" stroke-width="1.3"/>
<line x1="79.2" y1="696.28" x2="323.51" y2="696.28" stroke="#d9d9d9" stroke-width="1.3"/>
<line x1="79.2" y1="700.83" x2="323.51" y2="700.83" stroke="#d9d9d9" stroke-width="1.3"/>
<line x1="79.2" y1="731.66" x2="323.51" y2="731.66" stroke="#d9d9d9" stroke-width="1.3"/>
<line x1="79.2" y1="747.32" x2="323.51" y2="747.32" stroke="#d9d9d9" stroke-width="1.3"/>
<line x1="79.2" y1="758.42" x2="323.51" y2="758.42" stroke="#d9d9d9" stroke-width="1.3"/>
<line x1="79.2" y1="767.04" x2="323.51" y2="767.04" stroke="#d9d9d9" stroke-width="1.3"/>
<line x1="79.2" y1="774.08" x2="323.51" y2="774.08" stroke="#d9d9d9" stroke-width="1.3"/>
<line x1="79.2" y1="780.03" x2="323.51" y2="780.03" stroke="#d9d9d9" stroke-width="1.3"/>
<line x1="79.2" y1="785.18" x2="323.51" y2="785.18" stroke="#d9d9d9" stroke-width="1.3"/>
<line x1="79.2" y1="789.73" x2="323.51" y2="789.73" stroke="#d9d9d9" stroke-width="1.3"/>
<line x1="79.2" y1="820.56" x2="323.51" y2="820.56" stroke="#d9d9d9" stroke-width="1.3"/>
<line x1="79.2" y1="836.22" x2="323.51" y2="836.22" stroke="#d9d9d9" stroke-width="1.3"/>
<line x1="79.2" y1="847.32" x2="323.51" y2="847.32" stroke="#d9d9d9" stroke-width="1.3"/>
<line x1="79.2" y1="855.94" x2="323.51" y2="855.94" stroke="#d9d9d9" stroke-width="1.3"/>
<line x1="79.2" y1="862.98" x2="323.51" y2="862.98" stroke="#d9d9d9" stroke-width="1.3"/>
<line x1="79.2" y1="868.93" x2="323.51" y2="868.93" stroke="#d9d9d9" stroke-width="1.3"/>
<line x1="79.2" y1="874.08" x2="323.51" y2="874.08" stroke="#d9d9d9" stroke-width="1.3"/>
<line x1="79.2" y1="878.63" x2="323.51" y2="878.63" stroke="#d9d9d9" stroke-width="1.3"/>
<line x1="79.2" y1="909.46" x2="323.51" y2="909.46" stroke="#d9d9d9" stroke-width="1.3"/>
<line x1="79.2" y1="925.12" x2="323.51" y2="925.12" stroke="#d9d9d9" stroke-width="1.3"/>
<line x1="79.2" y1="936.22" x2="323.51" y2="936.22" stroke="#d9d9d9" stroke-width="1.3"/>
<line x1="79.2" y1="944.84" x2="323.51" y2="944.84" stroke="#d9d9d9" stroke-width="1.3"/>
<line x1="79.2" y1="951.88" x2="323.51" y2="951.88" stroke="#d9d9d9" stroke-width="1.3"/>
<line x1="79.2" y1="957.83" x2="323.51" y2="957.83" stroke="#d9d9d9" stroke-width="1.3"/>
<line x1="79.2" y1="962.98" x2="323.51" y2="962.98" stroke="#d9d9d9" stroke-width="1.3"/>
<line x1="79.2" y1="967.53" x2="323.51" y2="967.53" stroke="#d9d9d9" stroke-width="1.3"/>
<line x1="79.2" y1="998.36" x2="323.51" y2="998.36" stroke="#d9d9d9" stroke-width="1.3"/>
<line x1="79.2" y1="1014.02" x2="323.51" y2="1014.02" stroke="#d9d9d9" stroke-width="1.3"/>
<line x1="79.2" y1="1025.12" x2="323.51" y2="1025.12" stroke="#d9d9d9" stroke-width="1.3"/>
<line x1="79.2" y1="1033.74" x2="323.51" y2="1033.74" stroke="#d9d9d9" stroke-width="1.3"/>
<line x1="79.2" y1="1040.78" x2="323.51" y2="1040.78" stroke="#d9d9d9" stroke-width="1.3"/>
<line x1="79.2" y1="1046.73" x2="323.51" y2="1046.73" stroke="#d9d9d9" stroke-width="1.3"/>
<line x1="79.2" y1="1051.88" x2="323.51" y2="1051.88" stroke="#d9d9d9" stroke-width="1.3"/>
<line x1="79.2" y1="1056.43" x2="323.51" y2="1056.43" stroke="#d9d9d9" stroke-width="1.3"/>
<line x1="79.2" y1="1087.26" x2="323.51" y2="1087.26" stroke="#d9d9d9" stroke-width="1.3"/>
<line x1="122.49" y1="616" x2="122.49" y2="1087.26" stroke="#d9d9d9" stroke-width="1.3"/>
<line x1="147.81" y1="616" x2="147.81" y2="1087.26" stroke="#d9d9d9" stroke-width="1.3"/>
<line x1="165.78" y1="616" x2="165.78" y2="1087.26" stroke="#d9d9d9" stroke-width="1.3"/>
<line x1="179.71" y1="616" x2="179.71" y2="1087.26" stroke="#d9d9d9" stroke-width="1.3"/>
<line x1="191.1" y1="616" x2="191.1" y2="1087.26" stroke="#d9d9d9" stroke-width="1.3"/>
<line x1="200.73" y1="616" x2="200.73" y2="1087.26" stroke="#d9d9d9" stroke-width="1.3"/>
<line x1="209.06" y1="616" x2="209.06" y2="1087.26" stroke="#d9d9d9" stroke-width="1.3"/>
<line x1="216.42" y1="616" x2="216.42" y2="1087.26" stroke="#d9d9d9" stroke-width="1.3"/>
<line x1="266.29" y1="616" x2="266.29" y2="1087.26" stroke="#d9d9d9" stroke-width="1.3"/>
<line x1="291.61" y1="616" x2="291.61" y2="1087.26" stroke="#d9d9d9" stroke-width="1.3"/>
<line x1="309.58" y1="616" x2="309.58" y2="1087.26" stroke="#d9d9d9" stroke-width="1.3"/>
<line x1="79.2" y1="616" x2="79.2" y2="1087.26" stroke="#c8c8c8" stroke-width="1.4"/>
<line x1="323.51" y1="616" x2="323.51" y2="1087.26" stroke="#d0d0d0" stroke-width="1.4"/>
<line x1="79.2" y1="616" x2="323.51" y2="616" stroke="#c8c8c8" stroke-width="1.4"/>
<line x1="79.2" y1="1087.26" x2="323.51" y2="1087.26" stroke="#c8c8c8" stroke-width="1.4"/>
<line x1="79.2" y1="704.9" x2="323.51" y2="704.9" stroke="#b0b0b0" stroke-width="1.3"/>
<line x1="79.2" y1="793.8" x2="323.51" y2="793.8" stroke="#b0b0b0" stroke-width="1.3"/>
<line x1="79.2" y1="882.7" x2="323.51" y2="882.7" stroke="#b0b0b0" stroke-width="1.3"/>
<line x1="79.2" y1="971.6" x2="323.51" y2="971.6" stroke="#b0b0b0" stroke-width="1.3"/>
<line x1="79.2" y1="1060.5" x2="323.51" y2="1060.5" stroke="#b0b0b0" stroke-width="1.3"/>
<line x1="223" y1="616" x2="223" y2="1087.26" stroke="#a5a5a5" stroke-width="1.3"/>
<polyline points="110,616 110,733.1 135.2,733.1 135.2,790 173,790 173,851.2 194.7,851.2 194.7,866.7 230.2,866.7 230.2,875.9 253.8,875.9 253.8,885.8 267.2,885.8 267.2,918.9 280.4,918.9 280.4,950.9 289.1,950.9 289.1,975.2 295.5,975.2 295.5,1047.9 300.1,1047.9" fill="none" stroke="#ff0000" stroke-width="2.3" stroke-linejoin="miter" stroke-linecap="butt"/>
<polyline points="137.7,616 137.7,757.6 142.8,757.6 142.8,795.6 175.9,795.6 175.9,852.9 204.2,852.9 204.2,870.2 230.2,870.2 230.2,880.1 254.3,880.1 254.3,888.8 261.3,888.8 261.3,918.1 281.6,918.1 281.6,955.8 290.8,955.8 290.8,974.7 298.5,974.7 298.5,1006.2" fill="none" stroke="#00b050" stroke-width="2.3" stroke-linejoin="miter" stroke-linecap="butt"/>
<polyline points="293.5,616 293.5,1025.4 296,1025.4 296,1052 301.2,1052 301.2,1064.6 303.2,1064.6 303.2,1085.1 310.4,1085.1" fill="none" stroke="#0070c0" stroke-width="2.3" stroke-linejoin="miter" stroke-linecap="butt"/>
<polyline points="86,616 86,765 164.2,765 164.2,807.9 172.4,807.9" fill="none" stroke="#000" stroke-width="2.3" stroke-linejoin="miter" stroke-linecap="butt"/>
<line x1="430.1" y1="634.73" x2="673.9" y2="634.73" stroke="#d9d9d9" stroke-width="1.3"/>
<line x1="430.1" y1="650.72" x2="673.9" y2="650.72" stroke="#d9d9d9" stroke-width="1.3"/>
<line x1="430.1" y1="662.07" x2="673.9" y2="662.07" stroke="#d9d9d9" stroke-width="1.3"/>
<line x1="430.1" y1="670.87" x2="673.9" y2="670.87" stroke="#d9d9d9" stroke-width="1.3"/>
<line x1="430.1" y1="678.06" x2="673.9" y2="678.06" stroke="#d9d9d9" stroke-width="1.3"/>
<line x1="430.1" y1="684.13" x2="673.9" y2="684.13" stroke="#d9d9d9" stroke-width="1.3"/>
<line x1="430.1" y1="689.4" x2="673.9" y2="689.4" stroke="#d9d9d9" stroke-width="1.3"/>
<line x1="430.1" y1="694.05" x2="673.9" y2="694.05" stroke="#d9d9d9" stroke-width="1.3"/>
<line x1="430.1" y1="725.53" x2="673.9" y2="725.53" stroke="#d9d9d9" stroke-width="1.3"/>
<line x1="430.1" y1="741.52" x2="673.9" y2="741.52" stroke="#d9d9d9" stroke-width="1.3"/>
<line x1="430.1" y1="752.87" x2="673.9" y2="752.87" stroke="#d9d9d9" stroke-width="1.3"/>
<line x1="430.1" y1="761.67" x2="673.9" y2="761.67" stroke="#d9d9d9" stroke-width="1.3"/>
<line x1="430.1" y1="768.86" x2="673.9" y2="768.86" stroke="#d9d9d9" stroke-width="1.3"/>
<line x1="430.1" y1="774.93" x2="673.9" y2="774.93" stroke="#d9d9d9" stroke-width="1.3"/>
<line x1="430.1" y1="780.2" x2="673.9" y2="780.2" stroke="#d9d9d9" stroke-width="1.3"/>
<line x1="430.1" y1="784.85" x2="673.9" y2="784.85" stroke="#d9d9d9" stroke-width="1.3"/>
<line x1="430.1" y1="816.33" x2="673.9" y2="816.33" stroke="#d9d9d9" stroke-width="1.3"/>
<line x1="430.1" y1="832.32" x2="673.9" y2="832.32" stroke="#d9d9d9" stroke-width="1.3"/>
<line x1="430.1" y1="843.67" x2="673.9" y2="843.67" stroke="#d9d9d9" stroke-width="1.3"/>
<line x1="430.1" y1="852.47" x2="673.9" y2="852.47" stroke="#d9d9d9" stroke-width="1.3"/>
<line x1="430.1" y1="859.66" x2="673.9" y2="859.66" stroke="#d9d9d9" stroke-width="1.3"/>
<line x1="430.1" y1="865.73" x2="673.9" y2="865.73" stroke="#d9d9d9" stroke-width="1.3"/>
<line x1="430.1" y1="871" x2="673.9" y2="871" stroke="#d9d9d9" stroke-width="1.3"/>
<line x1="430.1" y1="875.65" x2="673.9" y2="875.65" stroke="#d9d9d9" stroke-width="1.3"/>
<line x1="430.1" y1="907.13" x2="673.9" y2="907.13" stroke="#d9d9d9" stroke-width="1.3"/>
<line x1="430.1" y1="923.12" x2="673.9" y2="923.12" stroke="#d9d9d9" stroke-width="1.3"/>
<line x1="430.1" y1="934.47" x2="673.9" y2="934.47" stroke="#d9d9d9" stroke-width="1.3"/>
<line x1="430.1" y1="943.27" x2="673.9" y2="943.27" stroke="#d9d9d9" stroke-width="1.3"/>
<line x1="430.1" y1="950.46" x2="673.9" y2="950.46" stroke="#d9d9d9" stroke-width="1.3"/>
<line x1="430.1" y1="956.53" x2="673.9" y2="956.53" stroke="#d9d9d9" stroke-width="1.3"/>
<line x1="430.1" y1="961.8" x2="673.9" y2="961.8" stroke="#d9d9d9" stroke-width="1.3"/>
<line x1="430.1" y1="966.45" x2="673.9" y2="966.45" stroke="#d9d9d9" stroke-width="1.3"/>
<line x1="430.1" y1="997.93" x2="673.9" y2="997.93" stroke="#d9d9d9" stroke-width="1.3"/>
<line x1="430.1" y1="1013.92" x2="673.9" y2="1013.92" stroke="#d9d9d9" stroke-width="1.3"/>
<line x1="430.1" y1="1025.27" x2="673.9" y2="1025.27" stroke="#d9d9d9" stroke-width="1.3"/>
<line x1="430.1" y1="1034.07" x2="673.9" y2="1034.07" stroke="#d9d9d9" stroke-width="1.3"/>
<line x1="430.1" y1="1041.26" x2="673.9" y2="1041.26" stroke="#d9d9d9" stroke-width="1.3"/>
<line x1="430.1" y1="1047.33" x2="673.9" y2="1047.33" stroke="#d9d9d9" stroke-width="1.3"/>
<line x1="430.1" y1="1052.6" x2="673.9" y2="1052.6" stroke="#d9d9d9" stroke-width="1.3"/>
<line x1="430.1" y1="1057.25" x2="673.9" y2="1057.25" stroke="#d9d9d9" stroke-width="1.3"/>
<line x1="430.1" y1="1088.73" x2="673.9" y2="1088.73" stroke="#d9d9d9" stroke-width="1.3"/>
<line x1="492.56" y1="607.4" x2="492.56" y2="1088.73" stroke="#d9d9d9" stroke-width="1.3"/>
<line x1="529.1" y1="607.4" x2="529.1" y2="1088.73" stroke="#d9d9d9" stroke-width="1.3"/>
<line x1="555.03" y1="607.4" x2="555.03" y2="1088.73" stroke="#d9d9d9" stroke-width="1.3"/>
<line x1="575.14" y1="607.4" x2="575.14" y2="1088.73" stroke="#d9d9d9" stroke-width="1.3"/>
<line x1="591.57" y1="607.4" x2="591.57" y2="1088.73" stroke="#d9d9d9" stroke-width="1.3"/>
<line x1="605.46" y1="607.4" x2="605.46" y2="1088.73" stroke="#d9d9d9" stroke-width="1.3"/>
<line x1="617.49" y1="607.4" x2="617.49" y2="1088.73" stroke="#d9d9d9" stroke-width="1.3"/>
<line x1="628.11" y1="607.4" x2="628.11" y2="1088.73" stroke="#d9d9d9" stroke-width="1.3"/>
<line x1="430.1" y1="607.4" x2="430.1" y2="1088.73" stroke="#c8c8c8" stroke-width="1.4"/>
<line x1="673.9" y1="607.4" x2="673.9" y2="1088.73" stroke="#d0d0d0" stroke-width="1.4"/>
<line x1="430.1" y1="607.4" x2="673.9" y2="607.4" stroke="#c8c8c8" stroke-width="1.4"/>
<line x1="430.1" y1="1088.73" x2="673.9" y2="1088.73" stroke="#c8c8c8" stroke-width="1.4"/>
<line x1="430.1" y1="698.2" x2="673.9" y2="698.2" stroke="#b0b0b0" stroke-width="1.3"/>
<line x1="430.1" y1="789" x2="673.9" y2="789" stroke="#b0b0b0" stroke-width="1.3"/>
<line x1="430.1" y1="879.8" x2="673.9" y2="879.8" stroke="#b0b0b0" stroke-width="1.3"/>
<line x1="430.1" y1="970.6" x2="673.9" y2="970.6" stroke="#b0b0b0" stroke-width="1.3"/>
<line x1="430.1" y1="1061.4" x2="673.9" y2="1061.4" stroke="#b0b0b0" stroke-width="1.3"/>
<line x1="637.6" y1="607.4" x2="637.6" y2="1088.73" stroke="#a5a5a5" stroke-width="1.3"/>
<polyline points="455.5,607.4 455.5,725.8 467.8,725.8 467.8,784.9 547.7,784.9 547.7,847.2 562.4,847.2 562.4,863.8 583.2,863.8 583.2,872.7 605.7,872.7 605.7,883.5 617.3,883.5 617.3,916.8 632.1,916.8 632.1,948.8 640.8,948.8 640.8,973.8 649.4,973.8 649.4,1048.6 654.9,1048.6" fill="none" stroke="#ff0000" stroke-width="2.3" stroke-linejoin="miter" stroke-linecap="butt"/>
<polyline points="477.6,607.4 477.6,752.2 526.4,752.2 526.4,790.3 558.5,790.3 558.5,849.1 568.9,849.1 568.9,866.9 575.9,866.9 575.9,877.3 599.9,877.3 599.9,886.2 607.6,886.2 607.6,916 632.3,916 632.3,954.7 640.3,954.7 640.3,973.8 651.2,973.8 651.2,1005.8 654.5,1005.8" fill="none" stroke="#00b050" stroke-width="2.3" stroke-linejoin="miter" stroke-linecap="butt"/>
<polyline points="644.6,607.4 644.6,1025.5 649.4,1025.5 649.4,1052.8 656.4,1052.8 656.4,1065.6 659.8,1065.6 659.8,1087 669.5,1087" fill="none" stroke="#0070c0" stroke-width="2.3" stroke-linejoin="miter" stroke-linecap="butt"/>
<line x1="41.7" y1="1145.8" x2="67.1" y2="1145.8" stroke="#ff0000" stroke-width="2.4" stroke-linecap="round"/>
<line x1="138.6" y1="1145.8" x2="163.6" y2="1145.8" stroke="#00b050" stroke-width="2.4" stroke-linecap="round"/>
<line x1="236.6" y1="1145.8" x2="261.6" y2="1145.8" stroke="#0070c0" stroke-width="2.4" stroke-linecap="round"/>
<line x1="434.2" y1="1145.8" x2="459.1" y2="1145.8" stroke="#000" stroke-width="2.4" stroke-linecap="round"/>
<g opacity="0.999">
<text x="52.5" y="43.3" font-size="16.8" font-weight="bold" text-anchor="end">10</text>
<text x="52.2" y="246.3" font-size="16.8" font-weight="bold" text-anchor="end">1</text>
<text x="52.1" y="449.3" font-size="16.8" font-weight="bold" text-anchor="end">0.1</text>
<text x="66.6" y="469.3" font-size="16.8" font-weight="bold" text-anchor="middle">0.1</text>
<text x="324" y="469.3" font-size="16.8" font-weight="bold" text-anchor="middle">1</text>
<text x="581.4" y="469.3" font-size="16.8" font-weight="bold" text-anchor="middle">10</text>
<text x="375.8" y="493.4" font-size="18.9" font-weight="bold" text-anchor="middle">Frequency (Hz)</text>
<text x="0" y="0" font-size="18.7" font-weight="bold" text-anchor="middle" transform="translate(15.8,240.1) rotate(-90)">eHVSR</text>
<text x="-0.5" y="21.3" font-size="31.5" font-weight="bold" text-anchor="start">(a)</text>
<text x="201.6" y="15.9" font-size="18.7" font-weight="bold" text-anchor="start">eHVSR (observed)</text>
<text x="393.8" y="15.9" font-size="18.2" font-weight="bold" text-anchor="start">TEA</text>
<text x="473.8" y="15.9" font-size="18.3" font-weight="bold" text-anchor="start">HHS</text>
<text x="79.2" y="600.2" font-size="18" font-weight="normal" text-anchor="middle">100</text>
<text x="223" y="600.2" font-size="18" font-weight="normal" text-anchor="middle">1000</text>
<text x="62.6" y="622.2" font-size="18" font-weight="normal" text-anchor="end">0.1</text>
<text x="62.6" y="711.1" font-size="18" font-weight="normal" text-anchor="end">1</text>
<text x="62.6" y="800" font-size="18" font-weight="normal" text-anchor="end">10</text>
<text x="62.6" y="888.9" font-size="18" font-weight="normal" text-anchor="end">100</text>
<text x="62.6" y="977.8" font-size="18" font-weight="normal" text-anchor="end">1000</text>
<text x="62.6" y="1066.7" font-size="18" font-weight="normal" text-anchor="end">10000</text>
<text x="201.8" y="576.4" font-size="18.5" font-weight="bold" text-anchor="middle">Vs (m/s)</text>
<text x="0" y="0" font-size="18.6" font-weight="bold" text-anchor="middle" transform="translate(20.3,852) rotate(-90)">Depth (m)</text>
<text x="10.2" y="573.2" font-size="31" font-weight="bold" text-anchor="start" letter-spacing="0.9">(b)</text>
<text x="430.1" y="591.8" font-size="18" font-weight="normal" text-anchor="middle">500</text>
<text x="637.6" y="591.8" font-size="18" font-weight="normal" text-anchor="middle">5000</text>
<text x="413.6" y="613.6" font-size="18" font-weight="normal" text-anchor="end">0.1</text>
<text x="413.6" y="704.4" font-size="18" font-weight="normal" text-anchor="end">1</text>
<text x="413.6" y="795.2" font-size="18" font-weight="normal" text-anchor="end">10</text>
<text x="413.6" y="886" font-size="18" font-weight="normal" text-anchor="end">100</text>
<text x="413.6" y="976.8" font-size="18" font-weight="normal" text-anchor="end">1000</text>
<text x="413.6" y="1067.6" font-size="18" font-weight="normal" text-anchor="end">10000</text>
<text x="552.1" y="567.5" font-size="18.5" font-weight="bold" text-anchor="middle">Vp (m/s)</text>
<text x="0" y="0" font-size="18.6" font-weight="bold" text-anchor="middle" transform="translate(371.3,849) rotate(-90)">Depth (m)</text>
<text x="355.2" y="573.2" font-size="31" font-weight="bold" text-anchor="start" letter-spacing="0.9">(c)</text>
<text x="71" y="1152.2" font-size="18" font-weight="bold" text-anchor="start">TEA</text>
<text x="167.2" y="1152.2" font-size="18" font-weight="bold" text-anchor="start">HHS</text>
<text x="264.5" y="1152.2" font-size="18.6" font-weight="bold" text-anchor="start">TTI (Nasiri 2021)</text>
<text x="462.6" y="1152.2" font-size="18.7" font-weight="bold" text-anchor="start">ISMN-Vs</text>
</g>
</svg>
</body></html>
